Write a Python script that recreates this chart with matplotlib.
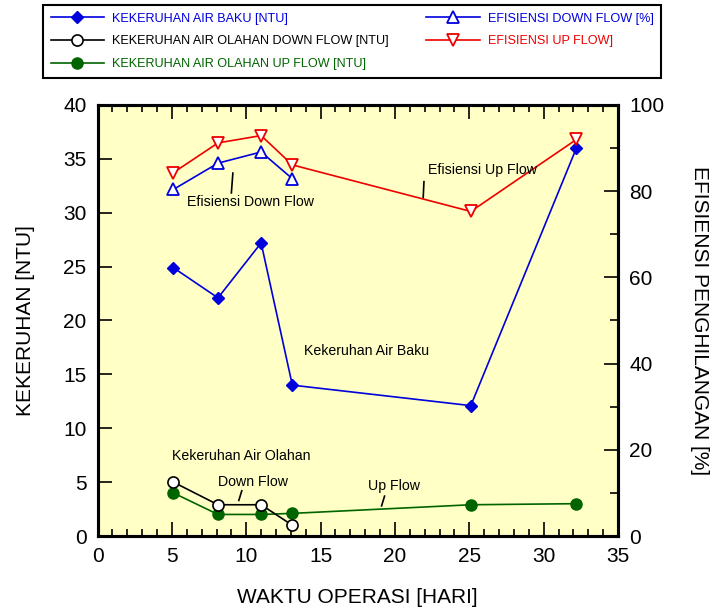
import numpy as np
import matplotlib
matplotlib.use("Agg")
import matplotlib.pyplot as plt
from matplotlib.ticker import MultipleLocator

plt.rcParams['font.family'] = ['Liberation Sans', 'DejaVu Sans']

# data
hari = [5.1, 8.1, 11.0, 13.1, 25.1, 32.2]
hari_down = [5.1, 8.1, 11.0, 13.1]

baku = [24.9, 22.1, 27.2, 14.0, 12.1, 36.0]
olahan_down = [5.0, 2.9, 2.9, 1.0]
olahan_up = [4.0, 2.0, 2.0, 2.1, 2.9, 3.0]

efisiensi_down = [80.4, 86.5, 89.1, 82.9]
efisiensi_up = [84.3, 91.2, 92.9, 86.1, 75.3, 92.0]

biru = '#0000dd'
merah = '#ee0000'
hijau = '#006400'
kuning = '#ffffc6'

fig = plt.figure(figsize=(7.14, 6.10), dpi=100)
ax = fig.add_axes([0.1366, 0.1213, 0.7290, 0.7066])
ax.set_facecolor(kuning)
ax2 = ax.twinx()

l1, = ax.plot(hari, baku, color=biru, lw=1.2, marker='D', ms=6.5,
              mfc=biru, mec=biru, label='KEKERUHAN AIR BAKU [NTU]')
l2, = ax.plot(hari_down, olahan_down, color='black', lw=1.2, marker='o', ms=8,
              mfc='white', mec='black', mew=1.2,
              label='KEKERUHAN AIR OLAHAN DOWN FLOW [NTU]', zorder=4)
l3, = ax.plot(hari, olahan_up, color=hijau, lw=1.2, marker='o', ms=8,
              mfc=hijau, mec=hijau, label='KEKERUHAN AIR OLAHAN UP FLOW [NTU]')
l4, = ax2.plot(hari_down, efisiensi_down, color=biru, lw=1.2, marker='^', ms=9,
               mfc='white', mec=biru, mew=1.3, label='EFISIENSI DOWN FLOW [%]')
l5, = ax2.plot(hari, efisiensi_up, color=merah, lw=1.2, marker='v', ms=9,
               mfc='white', mec=merah, mew=1.3, label='EFISIENSI UP FLOW]')

ax.set_xlim(0, 35)
ax.set_ylim(0, 40)
ax2.set_ylim(0, 100)

ax.xaxis.set_major_locator(MultipleLocator(5))
ax.xaxis.set_minor_locator(MultipleLocator(1))
ax.yaxis.set_major_locator(MultipleLocator(5))
ax2.yaxis.set_major_locator(MultipleLocator(20))
ax2.yaxis.set_minor_locator(MultipleLocator(10))

ax.tick_params(axis='x', which='both', direction='in', top=True, labelsize=15, pad=8)
ax.tick_params(axis='x', which='major', length=10, width=1.2)
ax.tick_params(axis='x', which='minor', length=5, width=1.2)
ax.tick_params(axis='y', which='major', direction='in', length=10, width=1.2,
               labelsize=15, pad=8)
ax2.tick_params(axis='y', which='major', direction='in', length=10, width=1.2,
                labelsize=15, pad=8)
ax2.tick_params(axis='y', which='minor', direction='in', length=6, width=1.2)

for a in (ax, ax2):
    for s in a.spines.values():
        s.set_linewidth(2.2)

ax.set_xlabel('WAKTU OPERASI [HARI]', fontsize=15, labelpad=16)
ax.set_ylabel('KEKERUHAN [NTU]', fontsize=15, labelpad=20)
ax2.set_ylabel('EFISIENSI PENGHILANGAN [%]', fontsize=15, rotation=-90,
               labelpad=32)

# annotations
ax2.text(6.0, 77.6, 'Efisiensi Down Flow', fontsize=10.2, va='center')
ax2.plot([9.1, 9.0], [84.2, 79.6], color='black', lw=1.2)
ax2.text(22.2, 84.8, 'Efisiensi Up Flow', fontsize=10.2, va='center')
ax2.plot([21.95, 21.9], [82.2, 78.6], color='black', lw=1.2)
ax.text(13.9, 17.2, 'Kekeruhan Air Baku', fontsize=10.2, va='center')
ax.text(5.0, 7.4, 'Kekeruhan Air Olahan', fontsize=10.2, va='center')
ax.text(8.1, 5.0, 'Down Flow', fontsize=10.2, va='center')
ax.plot([9.7, 9.5], [4.2, 3.3], color='black', lw=1.2)
ax.text(18.2, 4.6, 'Up Flow', fontsize=10.2, va='center')
ax.plot([19.3, 19.1], [3.7, 2.8], color='black', lw=1.2)

leg = fig.legend(handles=[l1, l2, l3, l4, l5], ncol=2, fontsize=9.1,
                 loc='upper left', bbox_to_anchor=(43 / 714, 1 - 5 / 610),
                 borderaxespad=0, fancybox=False, edgecolor='black',
                 framealpha=1, handlelength=4.2, handletextpad=0.65,
                 labelspacing=0.85, borderpad=0.6, columnspacing=3.0)
leg.get_frame().set_linewidth(1.5)
for t, c in zip(leg.get_texts(), [biru, 'black', hijau, biru, merah]):
    t.set_color(c)

fig.savefig('out.png', dpi=100)
